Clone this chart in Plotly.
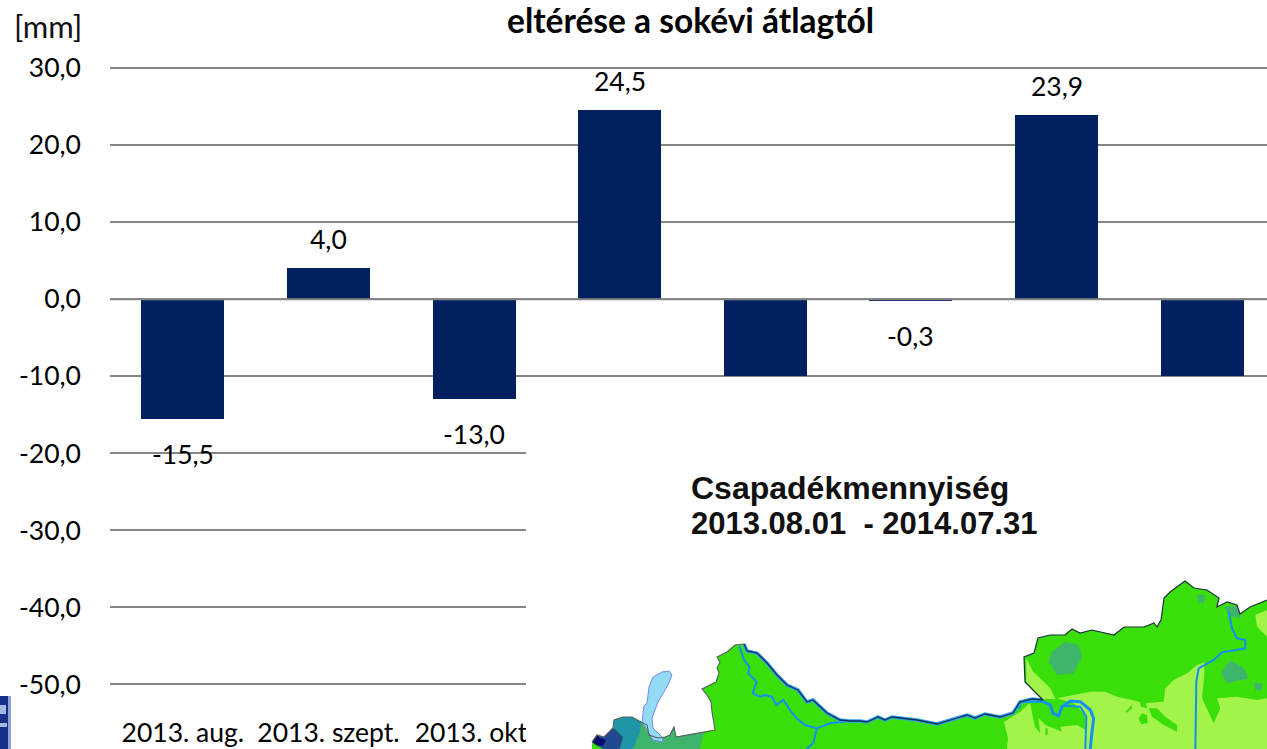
import plotly.graph_objects as go

W, H = 1267, 749

# ---- chart data ----
months = list(range(8))
values = [-15.5, 4.0, -13.0, 24.5, -10.0, -0.3, 23.9, -10.0]
value_labels = ["-15,5", "4,0", "-13,0", "24,5", "", "-0,3", "23,9", ""]
tick_positions = [0, 1, 2]
tick_labels = ["2013. aug.", "2013. szept.", "2013. okt."]
y_ticks = [30, 20, 10, 0, -10, -20, -30, -40, -50]
y_tick_labels = ["30,0", "20,0", "10,0", "0,0", "-10,0", "-20,0", "-30,0", "-40,0", "-50,0"]

FONT = "Lato, Carlito, Calibri, sans-serif"
SIZE = 26.5
fig = go.Figure()
fig.add_bar(x=months, y=values, width=0.57, marker=dict(color="#002060", line=dict(width=0)), hoverinfo="skip")

annotations = []
for m, v, t in zip(months, values, value_labels):
    if t:
        annotations.append(dict(x=m, y=v, xref="x", yref="y", text=t, showarrow=False,
                                yshift=29 if v > 0 else -35,
                                font=dict(family=FONT, size=SIZE, color="#000000")))
annotations += [
    dict(x=48 / W, y=1 - 26 / H, xref="paper", yref="paper", xanchor="center", yanchor="middle", text="[mm]",
         showarrow=False, font=dict(family=FONT, size=31, color="#111111")),
    dict(x=690 / W, y=1 - 20 / H, xref="paper", yref="paper", xanchor="center", yanchor="middle",
         text="<b>eltérése a sokévi átlagtól</b>",
         showarrow=False, font=dict(family=FONT, size=33.5, color="#000000")),
    dict(x=689 / W, y=1 - 488 / H, xref="paper", yref="paper", xanchor="left", yanchor="middle", align="left",
         text="<b>Csapadékmennyiség</b>", showarrow=False,
         font=dict(family="Liberation Sans", size=32, color="#111111")),
    dict(x=689 / W, y=1 - 523 / H, xref="paper", yref="paper", xanchor="left", yanchor="middle", align="left",
         text="<b>2013.08.01  - 2014.07.31</b>", showarrow=False,
         font=dict(family="Liberation Sans", size=31, color="#111111")),
]

# ---- decorative map overlay, in picture pixels ----
def path(points, close=True):
    s = "M " + " L ".join(f"{x / W:.5f},{1 - y / H:.5f}" for x, y in points)
    return s + (" Z" if close else "")

def z4(p): return [(590 + x / 3, 640 + y / 3) for x, y in p]
def z6(p): return [(1017 + x / 3, 575 + y / 3) for x, y in p]

def shape(points, fill=None, line=None, width=0, close=True):
    d = dict(type="path", xref="paper", yref="paper", layer="above", path=path(points, close))
    d["fillcolor"] = fill if fill else "rgba(0,0,0,0)"
    d["line"] = dict(color=line or "rgba(0,0,0,0)", width=width)
    return d

border_west = [(592, 742), (597, 735), (604, 737), (613, 728), (614, 720), (623, 717), (632, 717), (641, 722),
               (647, 725), (649, 735), (658, 738), (665, 737), (670, 735), (674, 727), (676, 737), (715, 730),
               (712, 712), (711, 702), (707, 695), (702, 689), (716, 682), (719, 673), (717, 668), (720, 662),
               (717, 657), (727, 652), (735, 645), (744, 644)]
border_river = [(744, 644), (747, 651), (757, 653), (767, 663), (777, 675), (787, 685), (798, 690), (807, 702),
                (813, 700), (827, 713), (840, 720), (850, 721), (860, 721), (867, 722), (878, 717), (885, 720),
                (892, 717), (917, 720), (937, 724), (957, 718), (967, 715), (975, 718), (985, 714), (1000, 717),
                (1013, 713), (1020, 702), (1032, 699), (1043, 700)]
border_east = [(1043, 700), (1035, 692), (1025, 682), (1024, 657), (1034, 653), (1038, 638), (1050, 635),
               (1065, 635), (1072, 629), (1080, 633), (1092, 630), (1114, 635), (1124, 627), (1144, 627),
               (1154, 623), (1157, 627), (1161, 620), (1164, 598), (1170, 592), (1185, 581), (1194, 588),
               (1207, 590), (1219, 598), (1217, 607), (1227, 602), (1237, 605), (1240, 614), (1250, 607),
               (1267, 600)]
outline = border_west + border_river[1:] + border_east[1:]

BRIGHT, LIGHT, SAGE = "#3ADF0A", "#A2F44A", "#3FB56B"
TEAL, BLUE, NAVY = "#1E96A8", "#204A90", "#0A0A70"
RIVER = "#1490F0"

shapes = [
    # zero line sits over the bars
    dict(type="line", xref="paper", yref="y", layer="above", x0=110 / W, x1=1, y0=0, y1=0,
         line=dict(color="#868686", width=2)),
    # white panel hiding the lower right of the chart
    dict(type="rect", xref="paper", yref="paper", layer="above", x0=526 / W, x1=1, y0=0, y1=1 - 385 / H,
         fillcolor="#FFFFFF", line=dict(width=0)),
    # sliver of another picture at the left edge
    dict(type="rect", xref="paper", yref="paper", layer="above", x0=0, x1=11 / W, y0=0, y1=1 - 696 / H,
         fillcolor="#16308A", line=dict(width=0)),
    dict(type="rect", xref="paper", yref="paper", layer="above", x0=8 / W, x1=11 / W, y0=0, y1=1 - 696 / H,
         fillcolor="#8FA4DA", line=dict(width=0)),
    dict(type="rect", xref="paper", yref="paper", layer="above", x0=0, x1=6 / W, y0=1 - 714 / H, y1=1 - 705 / H,
         fillcolor="#A9B8E0", line=dict(width=0)),
    dict(type="rect", xref="paper", yref="paper", layer="above", x0=0, x1=7 / W, y0=1 - 727 / H, y1=1 - 723 / H,
         fillcolor="#A9B8E0", line=dict(width=0)),
    # land
    shape(outline + [(1267, 749), (592, 749)], fill=BRIGHT),
]
# west: coloured zones
west_sage = [(641, 722), (647, 725), (649, 735), (658, 738), (665, 737), (670, 735), (674, 727), (676, 737),
             (704, 732), (700, 749), (633, 749), (640, 733)]
west_teal = [(613, 728), (614, 720), (623, 717), (632, 717), (641, 722), (640, 733), (633, 749), (620, 749),
             (623, 737), (616, 730)]
west_blue = [(597, 735), (604, 737), (613, 728), (616, 730), (623, 737), (620, 749), (603, 749), (596, 745)]
west_navy = [(592, 742), (597, 735), (600, 738), (606, 740), (603, 746), (596, 745)]
lake = [(669, 671), (662, 672), (653, 677), (649, 687), (647, 703), (644, 706), (642, 722), (647, 730), (653, 740),
        (663, 742), (662, 737), (653, 728), (652, 718), (658, 702), (668, 685), (672, 675)]
shapes += [shape(west_sage, fill=SAGE), shape(west_teal, fill=TEAL), shape(west_blue, fill=BLUE),
           shape(west_navy, fill=NAVY), shape(lake, fill="#93DAF5", line="#6F8CF5", width=1)]

# east: pale zone, then bright patches back on top
pale = [(1004, 722), (1020, 712), (1030, 703), (1035, 727), (1040, 733)] + z6([
    (65, 430), (85, 450), (135, 470), (130, 455), (180, 450), (205, 465), (205, 420), (170, 385), (120, 370),
    (170, 360), (220, 350), (265, 350), (300, 365), (345, 375), (380, 385), (440, 380), (445, 340), (470, 315),
    (510, 295), (540, 270), (562, 262), (562, 300), (555, 370), (590, 445), (610, 400), (600, 370), (660, 365),
    (720, 375), (750, 370), (750, 522)]) + [(1007, 749), (1008, 738)]
pale_nw = z6([(28, 250), (48, 290), (65, 305), (100, 340), (115, 372), (75, 372), (55, 350), (28, 320)])
pale_ne = z6([(750, 105), (715, 120), (720, 155), (750, 185)])
bright_patches = [z6([(365, 430), (375, 415), (390, 420), (392, 445), (372, 448)]),
                  z6([(395, 400), (420, 400), (445, 425), (480, 450), (480, 470), (440, 450), (405, 425)]),
                  z6([(325, 410), (345, 390), (345, 400), (330, 413)]),
                  z6([(365, 360), (385, 365), (390, 400), (372, 395)]),
                  z6([(85, 460), (92, 460), (92, 480), (85, 480)])]
sage_patches = [z6([(145, 200), (105, 230), (95, 260), (120, 300), (170, 295), (195, 245), (185, 210)]),
                z6([(640, 255), (612, 295), (630, 325), (695, 310), (680, 280)]),
                z6([(710, 325), (735, 325), (735, 345), (715, 345)]),
                z6([(540, 60), (565, 60), (560, 85), (545, 85)]),
                z6([(620, 95), (660, 92), (672, 130), (640, 125)])]
shapes += [shape(pale, fill=LIGHT), shape(pale_nw, fill=LIGHT), shape(pale_ne, fill=LIGHT)]
shapes += [shape(p, fill=BRIGHT) for p in bright_patches]
shapes += [shape(p, fill=SAGE) for p in sage_patches]

# rivers
rivers = [
    (z4([(448, 18), (462, 60), (478, 80), (475, 100), (500, 125), (488, 160), (510, 170), (525, 165), (545, 170),
         (560, 195), (580, 180), (600, 210), (620, 235), (645, 255), (680, 265), (670, 310), (650, 327)]), 2),
    (z4([(680, 265), (720, 250), (780, 243)]), 2),
    (z6([(5, 400), (10, 380), (75, 378), (100, 390), (108, 415), (125, 422), (135, 395), (160, 378), (190, 380),
         (220, 405), (230, 430), (225, 470), (220, 522)]), 3),
    (z6([(140, 392), (190, 395), (208, 425), (205, 522)]), 2),
    (z6([(635, 110), (645, 160), (660, 190), (685, 195), (685, 220), (615, 232), (590, 255), (545, 280), (538, 320),
         (535, 522)]), 2),
]
shapes += [shape(p, line=RIVER, width=w, close=False) for p, w in rivers]
shapes += [shape(border_river, line="#33A4F2", width=3.5, close=False),
           shape(border_west, line="#555F5F", width=1.1, close=False),
           shape(border_river, line="#0F2F55", width=1.3, close=False),
           shape(border_east, line="#1C3040", width=1.2, close=False)]

fig.update_layout(
    width=W, height=H, autosize=False,
    margin=dict(l=0, r=0, t=0, b=0),
    paper_bgcolor="#FFFFFF", plot_bgcolor="#FFFFFF",
    showlegend=False, bargap=0,
    shapes=shapes, annotations=annotations,
    font=dict(family=FONT, size=SIZE, color="#000000"),
    xaxis=dict(domain=[110 / W, 1], range=[-0.5, 7.445], tickmode="array", tickvals=tick_positions,
               ticktext=tick_labels, ticklabelposition="inside", ticklabelstandoff=-1, ticks="",
               showgrid=False, zeroline=False, showline=False, tickfont=dict(family=FONT, size=SIZE, color="#000000")),
    yaxis=dict(domain=[0, 1], range=[-58.38, 38.82], tickmode="array", tickvals=y_ticks, ticktext=y_tick_labels,
               showgrid=True, gridcolor="#868686", gridwidth=2, zeroline=True, zerolinecolor="#868686",
               zerolinewidth=2, showline=False, ticks="", ticklabelstandoff=28,
               tickfont=dict(family=FONT, size=SIZE, color="#000000")),
)
fig.write_html("out.html", config=dict(displayModeBar=False),
               post_script="document.body.style.margin='0';document.documentElement.style.overflow='hidden';")
